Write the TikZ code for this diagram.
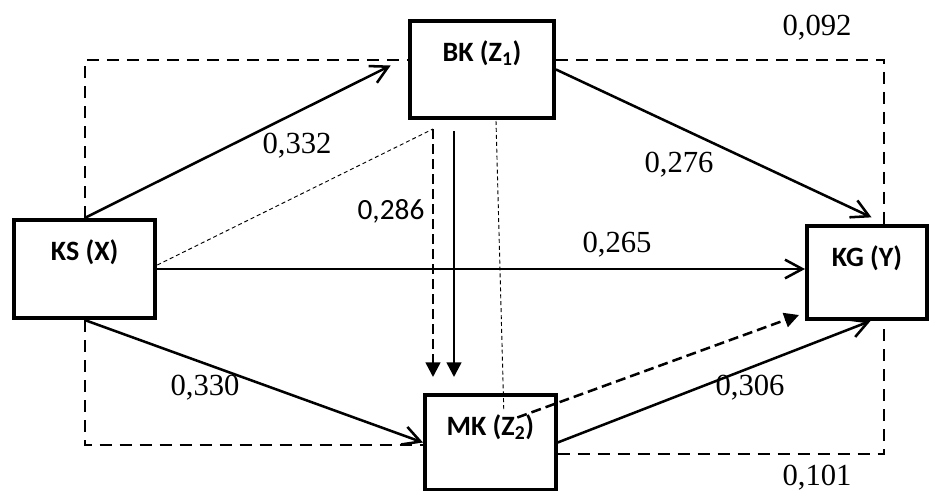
\documentclass[tikz,border=0pt]{standalone}
\usepackage{fontspec}
\setmainfont{Liberation Serif}
\newfontfamily\boxfont{Carlito}
\usetikzlibrary{arrows.meta,calc}
\tikzset{
  varbox/.style={draw, line width=3pt, inner sep=0pt, anchor=north west, text height=30pt,
    font=\boxfont\bfseries\fontsize{21pt}{21pt}\selectfont},
  coef/.style={anchor=base, inner sep=0pt, font=\fontsize{23pt}{23pt}\selectfont},
  coefsans/.style={anchor=base, inner sep=0pt, font=\boxfont\fontsize{22pt}{22pt}\selectfont},
  effect/.style={line width=1.9pt, -{Straight Barb[length=13pt,width=14pt]}},
  indirect/.style={line width=1.9pt, dash pattern=on 7.5pt off 3.75pt, -{Triangle[length=11pt,width=11pt]}},
  boxframe/.style={line width=1.4pt, dash pattern=on 9pt off 6pt},
  weaklink/.style={line width=0.7pt, dash pattern=on 3pt off 2.2pt}
}
\begin{document}
\begin{tikzpicture}[x=0.75pt, y=-0.75pt]
\useasboundingbox (0,0) rectangle (929,490);
\node[varbox, minimum width=106pt, text depth=43.5pt] (ks) at (12,218) {KS (X)};
\node[varbox, minimum width=108pt, text depth=42.75pt] (bk) at (408,19) {BK (Z\textsubscript{1})};
\node[varbox, minimum width=98pt, text depth=41.25pt] (mk) at (423,393) {MK (Z\textsubscript{2})};
\node[varbox, minimum width=90pt, text depth=39.75pt] (kg) at (805,224) {KG (Y)};

\draw[boxframe] (ks.north) |- ([yshift=7pt]bk.west);
\draw[boxframe] ([yshift=7pt]bk.east) -| ([xshift=13pt]kg.north);
\draw[boxframe] (ks.south) |- ([yshift=-2pt]mk.west);
\draw[boxframe] ([yshift=-8.6pt]mk.east) -| ([xshift=13pt]kg.south);

\draw[effect] (ks.north) -- ([xshift=-13pt,yshift=3pt]bk.west);
\draw[effect] (bk.east) -- ([xshift=3.4pt,yshift=5pt]kg.north);
\draw[effect] (ks.east) -- (ks.east -| kg.west);
\draw[effect] (ks.south) -- (mk.west);
\draw[effect] (mk.east) -- ([xshift=2.6pt]kg.south);

\coordinate (zdash) at ($(bk.south)+(-49,9)$);
\coordinate (zsolid) at ($(bk.south)+(-28,11)$);
\draw[effect, -{Triangle[length=11pt,width=11pt]}, shorten >=12pt] (zsolid) -- (zsolid |- mk.north);
\draw[indirect, shorten >=12pt] (zdash) -- (zdash |- mk.north);
\draw[indirect] ($(mk.center)+(27,-25)$) -- ($(kg.south west)+(-6,-6)$);
\draw[weaklink] ([yshift=3pt]ks.east) -- (zdash);
\draw[weaklink] ($(bk.south)+(14,1)$) -- ($(mk.north)+(13.5,19)$);

\node[coef] (c332) at (297,153) {0,332};
\node[coef] (c276) at (679,172) {0,276};
\node[coef] (c265) at (617,252) {0,265};
\node[coef] (c330) at (205,395) {0,330};
\node[coef] (c306) at (750,395) {0,306};
\node[coef] (c092) at (817,35) {0,092};
\node[coef] (c101) at (817,485) {0,101};
\node[coefsans] (c286) at (391,219) {0,286};
\end{tikzpicture}
\end{document}
